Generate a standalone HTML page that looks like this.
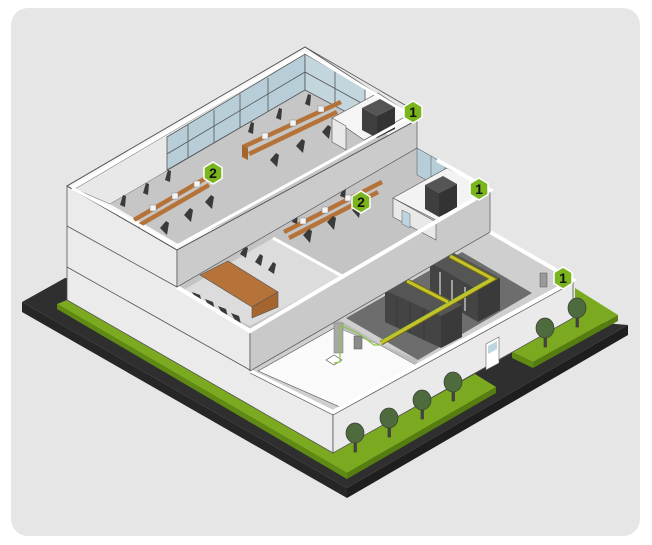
<!DOCTYPE html>
<html><head><meta charset="utf-8"><style>
html,body{margin:0;padding:0;background:#fff;}
svg{display:block;}
text{font-family:"Liberation Sans",sans-serif;font-weight:bold;}
</style></head><body>
<svg width="652" height="545" viewBox="0 0 652 545" xmlns="http://www.w3.org/2000/svg">
<rect x="11" y="8" width="629" height="528" rx="17" fill="#e6e6e6"/>

<!-- dark base -->
<polygon points="22,302 65,278 628,325 347,488" fill="#2f2f2f"/>
<polygon points="22,302 347,488 347,498 22,312" fill="#262626"/>
<polygon points="347,488 628,325 628,335 347,498" fill="#1e1e1e"/>

<!-- left/front lawn -->
<polygon points="57,304 67,300 333,453 475,374 496,387 347,473" fill="#7ba91f"/>
<polygon points="57,304 347,473 347,479 57,309" fill="#5f8a14"/>
<polygon points="347,473 496,387 496,393 347,479" fill="#557d10"/>
<!-- right lawn patch -->
<polygon points="512,352 575,316 575,288 618,315 533,362" fill="#7ba91f"/>
<polygon points="512,352 533,362 533,368 512,358" fill="#5f8a14"/>
<polygon points="533,362 618,315 618,321 533,368" fill="#557d10"/>

<!-- building left face -->
<polygon points="67,186 177,250 177,287 250,331 250,371 333,412 333,453 67,300" fill="#ebebeb" stroke="#555" stroke-width="0.8"/>
<line x1="67" y1="226" x2="177" y2="287" stroke="#555" stroke-width="0.8"/>
<line x1="67" y1="267" x2="250" y2="370" stroke="#555" stroke-width="0.8"/>

<!-- ground floor right face -->
<polygon points="333,412 573,280 573,318 333,453" fill="#eaeaea" stroke="#555" stroke-width="0.8"/>
<!-- ground interior -->
<polygon points="250,371 490,232 573,280 333,412" fill="#cfcfcf"/>
<polygon points="346,318 462,252 532,293 418,360" fill="#6d6d6d"/>
<polygon points="258,371 336,327 380,345 416,365 340,407" fill="#fafafa" stroke="#555" stroke-width="0.6"/>
<polygon points="336,318 380,344 380,345 336,327" fill="#bcbcbc"/>
<polygon points="380,344 418,360 416,365 380,345" fill="#bcbcbc"/>
<!-- perforated panel & box -->
<rect x="334" y="323" width="9" height="30" fill="#a8a8a8" stroke="#777" stroke-width="0.5"/>
<rect x="354" y="336" width="8" height="13" fill="#8a8a8a" stroke="#555" stroke-width="0.5"/>
<polygon points="326,360 334,355 342,360 334,365" fill="#fff" stroke="#555" stroke-width="0.6"/>
<polyline points="340,325 340,362 334,363" fill="none" stroke="#8cc63f" stroke-width="1.2"/>
<polyline points="340,325 358,333 374,345 380,345" fill="none" stroke="#8cc63f" stroke-width="1.2"/>

<!-- racks back group -->
<polygon points="430,262 452,252 500,278 478,290" fill="#555"/>
<polygon points="430,262 478,290 478,322 430,294" fill="#444"/>
<polygon points="478,290 500,278 500,310 478,322" fill="#3a3a3a"/>
<line x1="440" y1="272" x2="440" y2="296" stroke="#ddd" stroke-width="1.2"/>
<line x1="452" y1="280" x2="452" y2="304" stroke="#ddd" stroke-width="1.2"/>
<line x1="465" y1="287" x2="465" y2="311" stroke="#ddd" stroke-width="1.2"/>
<!-- racks front group -->
<polygon points="385,290 406,279 462,305 441,316" fill="#555"/>
<polygon points="385,290 441,316 441,348 385,322" fill="#444"/>
<polygon points="441,316 462,305 462,337 441,348" fill="#3a3a3a"/>
<line x1="397" y1="296" x2="397" y2="327" stroke="#333" stroke-width="0.6"/>
<line x1="410" y1="302" x2="410" y2="333" stroke="#333" stroke-width="0.6"/>
<line x1="424" y1="308" x2="424" y2="340" stroke="#333" stroke-width="0.6"/>
<!-- cable trays -->
<polyline points="381,343 493,279 450,256" fill="none" stroke="#6b6a12" stroke-width="5"/>
<polyline points="381,343 493,279 450,256" fill="none" stroke="#c8c22a" stroke-width="3"/>
<line x1="407" y1="281" x2="448" y2="302" stroke="#6b6a12" stroke-width="5"/>
<line x1="407" y1="281" x2="448" y2="302" stroke="#c8c22a" stroke-width="3"/>
<polyline points="381,341 493,277" fill="none" stroke="#9fd03a" stroke-width="0.8"/>

<!-- ground rim -->
<polyline points="250,371 333,412 573,280 490,232" fill="none" stroke="#fff" stroke-width="4"/>
<polyline points="250,373 333,415 573,283" fill="none" stroke="#555" stroke-width="0.7"/>
<!-- wall box near badge, door -->
<rect x="540" y="273" width="7" height="14" fill="#999" stroke="#555" stroke-width="0.5"/>
<polygon points="486,344 499,337 499,363 486,370" fill="#fff" stroke="#666" stroke-width="0.6"/>
<polygon points="488,346 497,341 497,349 488,354" fill="#bcd5df"/>

<!-- 2nd floor front face -->
<polygon points="250,331 490,190 490,232 250,371" fill="#c9c9c9" stroke="#555" stroke-width="0.7"/>
<!-- 2nd floor interior -->
<polygon points="177,287 417,148 437,160 490,190 250,331" fill="#c4c4c4"/>
<polygon points="182,291 273,238 342,276 250,326" fill="#dcdcdc"/>
<line x1="273" y1="238" x2="342" y2="276" stroke="#fff" stroke-width="3"/>
<!-- 2nd floor windows -->
<polygon points="417,148 445,164 445,190 417,175" fill="#b7ced8" stroke="#666" stroke-width="0.6"/>
<line x1="431" y1="156" x2="431" y2="182" stroke="#666" stroke-width="0.6"/>
<!-- 2nd floor closet -->
<polygon points="393,198 447,168 490,190 436,220" fill="#f3f3f3" stroke="#555" stroke-width="0.6"/>
<polygon points="393,198 436,222 436,240 393,217" fill="#e9e9e9" stroke="#555" stroke-width="0.6"/>
<polygon points="425,185 443,176 457,184 439,193" fill="#555"/>
<polygon points="425,185 439,193 439,217 425,209" fill="#3f3f3f"/>
<polygon points="439,193 457,184 457,208 439,217" fill="#333"/>
<polygon points="402,210 410,214 410,228 402,224" fill="#bcd5df" stroke="#666" stroke-width="0.5"/>
<!-- conference table -->
<polygon points="200,275 228,261 278,292 252,307" fill="#b5733a" stroke="#555" stroke-width="0.6"/>
<polygon points="252,307 278,292 278,307 252,318" fill="#a5652e" stroke="#555" stroke-width="0.6"/>
<g fill="#3a3a3a">
<path d="M240,254 l5,-8 l3,2 l-2,10z M255,262 l5,-8 l3,2 l-2,10z M268,270 l5,-8 l3,2 l-2,10z"/>
<path d="M192,292 l8,3 l2,8 l-5,-2z M205,299 l8,3 l2,8 l-5,-2z M218,306 l8,3 l2,8 l-5,-2z M231,313 l8,3 l2,8 l-5,-2z"/>
</g>
<!-- 2nd floor desks -->
<polygon points="283,230 381,180 383,184 285,234" fill="#b5733a"/>
<polygon points="288,236 377,190 379,194 290,240" fill="#b5733a"/>
<g fill="#f5f5f5" stroke="#888" stroke-width="0.5">
<rect x="300" y="218" width="6" height="6"/><rect x="322" y="207" width="6" height="6"/><rect x="345" y="195" width="6" height="6"/>
</g>
<g fill="#3a3a3a">
<path d="M303,235 l6,-6 l3,2 l-2,12z M327,222 l6,-6 l3,2 l-2,12z M352,210 l6,-6 l3,2 l-2,12z M292,222 l3,-9 l3,1 l-1,10z M340,196 l3,-9 l3,1 l-1,10z"/>
</g>
<!-- 2nd floor rim -->
<polyline points="177,287 250,331 490,190 437,160" fill="none" stroke="#fff" stroke-width="4"/>

<!-- top floor -->
<polygon points="67,186 305,47 417,120 177,250" fill="#f7f7f7" stroke="#555" stroke-width="0.8"/>
<polygon points="110,204 305,90 405,144 178,244" fill="#c6c6c6"/>
<polygon points="75,189 305,53 305,90 110,204" fill="#e8e8e8" stroke="#666" stroke-width="0.5"/>
<polygon points="167,137 305,54 305,90 167,170" fill="#b7ced8" stroke="#555" stroke-width="0.8"/>
<polygon points="305,54 365,88 365,122 305,90" fill="#c3d6de" stroke="#555" stroke-width="0.8"/>
<g stroke="#555" stroke-width="0.8">
<line x1="188" y1="125" x2="188" y2="158"/><line x1="214" y1="110" x2="214" y2="143"/><line x1="240" y1="94" x2="240" y2="128"/><line x1="268" y1="78" x2="268" y2="112"/>
<line x1="167" y1="154" x2="305" y2="72"/><line x1="305" y1="72" x2="365" y2="105"/><line x1="335" y1="71" x2="335" y2="105"/>
</g>
<!-- closet top -->
<polygon points="332,118 378,93 410,114 364,140" fill="#f5f5f5" stroke="#555" stroke-width="0.6"/>
<polygon points="332,118 346,126 346,150 332,142" fill="#e9e9e9" stroke="#555" stroke-width="0.6"/>
<polygon points="362,108 380,99 395,107 377,116" fill="#555"/>
<polygon points="362,108 377,116 377,138 362,130" fill="#3f3f3f"/>
<polygon points="377,116 395,107 395,129 377,138" fill="#333"/>
<!-- top desks -->
<polygon points="242,145 340,100 342,104 244,149" fill="#b5733a"/>
<polygon points="248,152 336,110 338,114 250,156" fill="#b5733a"/>
<polygon points="242,145 248,148 248,160 242,157" fill="#a5652e"/>
<polygon points="133,218 205,176 207,180 135,222" fill="#b5733a"/>
<polygon points="137,224 208,183 210,187 139,228" fill="#b5733a"/>
<g fill="#f5f5f5" stroke="#888" stroke-width="0.5">
<rect x="262" y="133" width="6" height="6"/><rect x="290" y="120" width="6" height="6"/><rect x="318" y="106" width="6" height="6"/>
<rect x="150" y="205" width="6" height="6"/><rect x="172" y="193" width="6" height="6"/><rect x="194" y="181" width="6" height="6"/>
</g>
<g fill="#3a3a3a">
<path d="M270,160 l6,-7 l3,2 l-2,12z M296,146 l6,-7 l3,2 l-2,12z M322,132 l6,-7 l3,2 l-2,12z M248,132 l3,-10 l3,1 l-1,11z M276,118 l3,-10 l3,1 l-1,11z M305,104 l3,-10 l3,1 l-1,11z"/>
<path d="M160,228 l6,-7 l3,2 l-2,12z M184,215 l6,-7 l3,2 l-2,12z M205,202 l6,-7 l3,2 l-2,12z M120,205 l3,-10 l3,1 l-1,11z M143,193 l3,-10 l3,1 l-1,11z M165,180 l3,-10 l3,1 l-1,11z"/>
</g>
<!-- top front face -->
<polygon points="177,250 417,120 417,148 177,287" fill="#cbcbcb" stroke="#555" stroke-width="0.7"/>
<polyline points="67,186 305,47 417,112 417,120 177,250 67,186" fill="none" stroke="#555" stroke-width="0.8"/>
<polyline points="72,188 305,52 412,116 177,246 72,188" fill="none" stroke="#fff" stroke-width="3"/>

<!-- trees -->
<g>
<g stroke="#3a3a3a" stroke-width="0.7">
<rect x="354" y="438" width="2.5" height="14" fill="#444"/><ellipse cx="355" cy="433" rx="9" ry="10" fill="#4d6b3c"/>
<rect x="388" y="423" width="2.5" height="14" fill="#444"/><ellipse cx="389" cy="418" rx="9" ry="10" fill="#4d6b3c"/>
<rect x="421" y="405" width="2.5" height="14" fill="#444"/><ellipse cx="422" cy="400" rx="9" ry="10" fill="#4d6b3c"/>
<rect x="452" y="387" width="2.5" height="14" fill="#444"/><ellipse cx="453" cy="382" rx="9" ry="10" fill="#4d6b3c"/>
<rect x="544" y="333" width="2.5" height="14" fill="#444"/><ellipse cx="545" cy="328" rx="9" ry="10" fill="#4d6b3c"/>
<rect x="576" y="313" width="2.5" height="14" fill="#444"/><ellipse cx="577" cy="308" rx="9" ry="10" fill="#4d6b3c"/>
</g>
</g>

<!-- badges -->
<g stroke="#fff" stroke-width="1.5" fill="#7ab51d">
<polygon points="413,101 422,106.5 422,117.5 413,123 404,117.5 404,106.5"/>
<polygon points="479,178 488,183.5 488,194.5 479,200 470,194.5 470,183.5"/>
<polygon points="563,267 572,272.5 572,283.5 563,289 554,283.5 554,272.5"/>
<polygon points="213,162 222,167.5 222,178.5 213,184 204,178.5 204,167.5"/>
<polygon points="361,191 370,196.5 370,207.5 361,213 352,207.5 352,196.5"/>
</g>
<g font-size="14" fill="#111" text-anchor="middle">
<text x="413" y="117">1</text>
<text x="479" y="194">1</text>
<text x="563" y="283">1</text>
<text x="213" y="178">2</text>
<text x="361" y="207">2</text>
</g>
</svg>
</body></html>
